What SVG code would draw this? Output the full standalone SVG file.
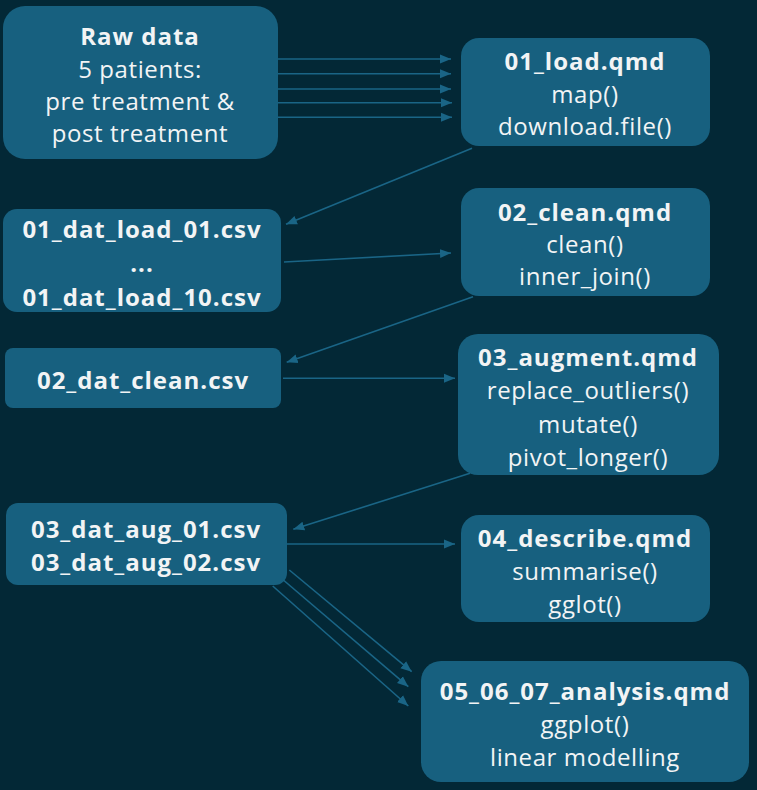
<svg xmlns="http://www.w3.org/2000/svg" width="757" height="790" viewBox="0 0 757 790">
<style>
.bg{fill:#032836}
.node{fill:#17607f}
.t{font-family:"Open Sans","Noto Sans","Liberation Sans",sans-serif;font-size:24px;letter-spacing:0.6px;fill:#f2f4f5;text-anchor:middle;dominant-baseline:central}
.b{font-weight:bold;letter-spacing:1px}
.conn line{stroke:#1a6586;stroke-width:1.6;marker-end:url(#ah)}
</style>
<defs>
<marker id="ah" markerUnits="userSpaceOnUse" markerWidth="12" markerHeight="12" viewBox="0 0 12 12" refX="11" refY="6" orient="auto">
<path d="M0,1.5 L11,6 L0,10.5 Z" fill="#1a6586"/>
</marker>
</defs>
<rect class="bg" x="0" y="0" width="757" height="790"/>
<g id="raw">
<rect class="node" x="3" y="6" width="275" height="153" rx="22"/>
<text class="t b" x="140" y="35">Raw data</text>
<text class="t" x="140" y="68">5 patients:</text>
<text class="t" x="140" y="100">pre treatment &amp;</text>
<text class="t" x="140" y="132">post treatment</text>
</g>
<g id="load">
<rect class="node" x="461" y="38" width="249" height="108" rx="18"/>
<text class="t b" x="585" y="60">01_load.qmd</text>
<text class="t" x="585" y="93">map()</text>
<text class="t" x="585" y="125">download.file()</text>
</g>
<g id="datload">
<rect class="node" x="3" y="209" width="278" height="103" rx="14"/>
<text class="t b" x="142" y="228">01_dat_load_01.csv</text>
<text class="t b" x="142" y="262">...</text>
<text class="t b" x="142" y="296">01_dat_load_10.csv</text>
</g>
<g id="clean">
<rect class="node" x="461" y="188" width="249" height="108" rx="18"/>
<text class="t b" x="585" y="211">02_clean.qmd</text>
<text class="t" x="585" y="243">clean()</text>
<text class="t" x="585" y="275">inner_join()</text>
</g>
<g id="datclean">
<rect class="node" x="5" y="348" width="276" height="60" rx="8"/>
<text class="t b" x="143" y="379">02_dat_clean.csv</text>
</g>
<g id="augment">
<rect class="node" x="458" y="334" width="261" height="141" rx="20"/>
<text class="t b" x="588" y="356">03_augment.qmd</text>
<text class="t" x="588" y="389">replace_outliers()</text>
<text class="t" x="588" y="423">mutate()</text>
<text class="t" x="588" y="456">pivot_longer()</text>
</g>
<g id="dataug">
<rect class="node" x="6" y="503" width="281" height="82" rx="12"/>
<text class="t b" x="146" y="528">03_dat_aug_01.csv</text>
<text class="t b" x="146" y="561">03_dat_aug_02.csv</text>
</g>
<g id="describe">
<rect class="node" x="461" y="515" width="249" height="107" rx="18"/>
<text class="t b" x="585" y="537">04_describe.qmd</text>
<text class="t" x="585" y="570">summarise()</text>
<text class="t" x="585" y="603">gglot()</text>
</g>
<g id="analysis">
<rect class="node" x="421" y="661" width="328" height="121" rx="20"/>
<text class="t b" x="585" y="690">05_06_07_analysis.qmd</text>
<text class="t" x="585" y="723">ggplot()</text>
<text class="t" x="585" y="756">linear modelling</text>
</g>
<g id="connectors" class="conn">
<line x1="278" y1="59" x2="451" y2="59"/>
<line x1="278" y1="73.7" x2="451" y2="73.7"/>
<line x1="278" y1="89" x2="451" y2="89"/>
<line x1="278" y1="102.7" x2="452" y2="102.7"/>
<line x1="278" y1="117.3" x2="452" y2="117.3"/>
<line x1="472" y1="148.3" x2="286" y2="224.3"/>
<line x1="284" y1="262" x2="451" y2="253"/>
<line x1="473" y1="296.7" x2="286.7" y2="362.3"/>
<line x1="283" y1="378.3" x2="455" y2="378.3"/>
<line x1="470" y1="473.3" x2="293.3" y2="529.3"/>
<line x1="287" y1="544" x2="455" y2="544"/>
<line x1="289.3" y1="570" x2="411.7" y2="671.7"/>
<line x1="283.3" y1="580" x2="408.3" y2="686.7"/>
<line x1="272.7" y1="586" x2="408.3" y2="706"/>
</g>
</svg>
